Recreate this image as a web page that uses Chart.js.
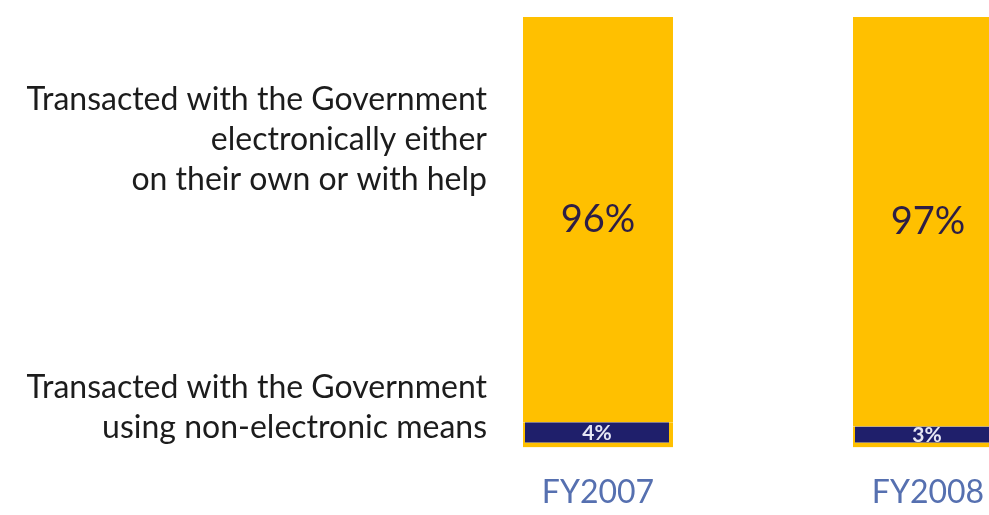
<!DOCTYPE html>
<html><head><meta charset="utf-8">
<script src="https://cdn.jsdelivr.net/npm/chart.js@4/dist/chart.umd.min.js"></script>
<style>
html,body{margin:0;padding:0;overflow:hidden;background:#fff;width:989px;height:515px;}
#wrap{position:absolute;left:0;top:0;width:1093px;height:540px;}
</style></head><body>
<div id="wrap"><canvas id="c"></canvas></div>
<script>
const categories = ['FY2007', 'FY2008'];
const nonElectronic = [4, 3];
const electronic = [96, 97];
const seriesLabels = [
  ['Transacted with the Government', 'using non-electronic means'],
  ['Transacted with the Government', 'electronically either', 'on their own or with help']
];

const GOLD = '#FFC000';
const NAVY = '#1F1F6B';

const valueLabels = {
  id: 'valueLabels',
  afterDatasetsDraw(chart) {
    const ctx = chart.ctx;
    ctx.save();
    ctx.textAlign = 'center';
    ctx.textBaseline = 'middle';
    chart.data.datasets.forEach((ds, i) => {
      const meta = chart.getDatasetMeta(i);
      meta.data.forEach((el, j) => {
        const p = el.getProps(['x', 'y', 'base'], true);
        const txt = ds.data[j] + '%';
        if (i === 0) {
          ctx.font = 'bold 21px Lato';
          ctx.fillStyle = '#E6E6F4';
          ctx.fillText(txt, p.x - 1, (p.y + p.base - 5) / 2 + 1);
        } else {
          ctx.font = '38px Lato';
          ctx.fillStyle = '#2D1E45';
          ctx.fillText(txt, p.x, (p.y + p.base) / 2);
        }
      });
    });
    ctx.restore();
  }
};

const seriesText = {
  id: 'seriesText',
  afterDraw(chart) {
    const ctx = chart.ctx;
    ctx.save();
    ctx.font = '32px Lato';
    ctx.fillStyle = '#1C1C1C';
    ctx.textAlign = 'right';
    ctx.textBaseline = 'alphabetic';
    const x = 487;
    seriesLabels[1].forEach((line, k) => ctx.fillText(line, x, 110 + 40 * k));
    seriesLabels[0].forEach((line, k) => ctx.fillText(line, x, 398 + 40 * k));
    ctx.restore();
  }
};

new Chart(document.getElementById('c'), {
  type: 'bar',
  data: {
    labels: categories,
    datasets: [
      {
        label: seriesLabels[0].join(' '),
        data: nonElectronic,
        backgroundColor: NAVY,
        borderColor: GOLD,
        borderWidth: { top: 0, left: 2, right: 4, bottom: 5 },
        borderSkipped: false,
        base: -2
      },
      {
        label: seriesLabels[1].join(' '),
        data: electronic,
        backgroundColor: GOLD,
        borderWidth: 0
      }
    ]
  },
  options: {
    responsive: true,
    maintainAspectRatio: false,
    animation: false,
    datasets: { bar: { barPercentage: 0.4545, categoryPercentage: 1 } },
    layout: { padding: { left: 433, right: 0, top: 17, bottom: 2 } },
    plugins: { legend: { display: false }, tooltip: { enabled: false } },
    scales: {
      x: {
        stacked: true,
        grid: { display: false, drawTicks: false },
        border: { display: false },
        ticks: { color: '#5670B0', font: { family: 'Lato', size: 32 }, padding: 26 }
      },
      y: { stacked: true, display: false, min: -2, max: 100 }
    }
  },
  plugins: [valueLabels, seriesText]
});
</script>
</body></html>
